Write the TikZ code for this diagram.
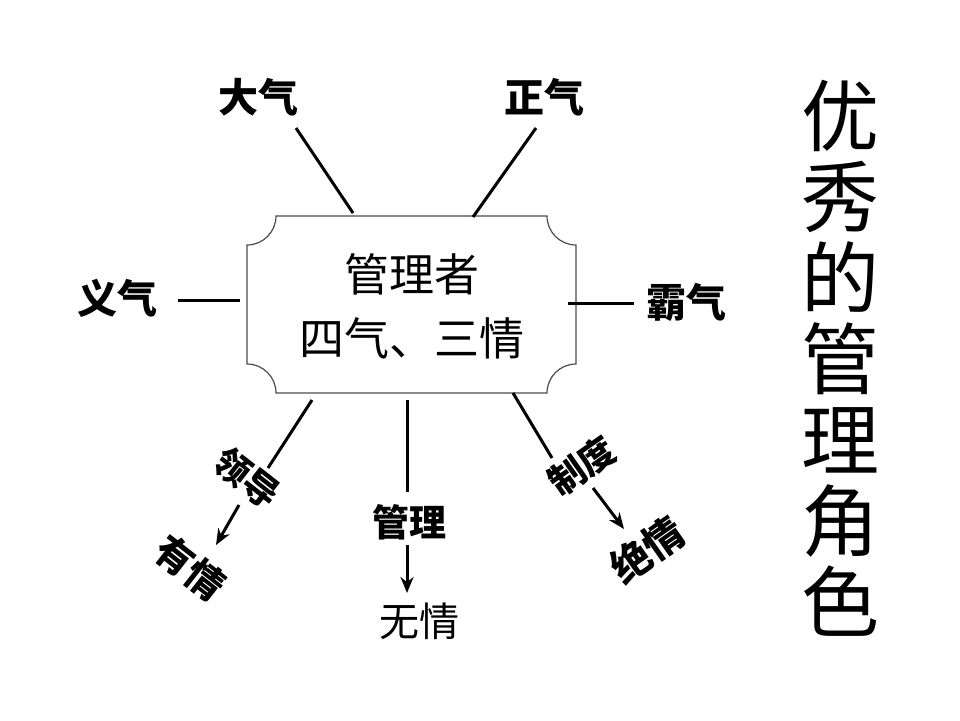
\documentclass[tikz,border=0pt]{standalone}
\usepackage{fontspec}
\newfontfamily\cjk{Noto Sans CJK SC}
\usetikzlibrary{arrows.meta}
\tikzset{
  lbl/.style={inner sep=0pt, font=\cjk\bfseries\fontsize{40}{44}\selectfont},
  lblr/.style={inner sep=0pt, font=\cjk\fontsize{40}{44}\selectfont},
  conn/.style={line width=3pt, black},
  arr/.style={line width=3pt, black, -{Stealth[length=16pt,width=13pt]}},
  plaque/.style={draw=black!70, line width=1.2pt, fill=white},
}
\begin{document}
\begin{tikzpicture}[x=1pt,y=-1pt]
\useasboundingbox (0,0) rectangle (960,720);
\fill[white] (0,0) rectangle (960,720);
% plaque box
\def\L{247}\def\R{576}\def\T{216}\def\B{393}\def\r{29}
\draw[plaque] (\L+\r,\T) -- (\R-\r,\T) arc[start angle=180,end angle=90,radius=\r]
  -- (\R,\B-\r) arc[start angle=270,end angle=180,radius=\r]
  -- (\L+\r,\B) arc[start angle=0,end angle=-90,radius=\r]
  -- (\L,\T+\r) arc[start angle=90,end angle=0,radius=\r] -- cycle;
\node[inner sep=0pt, align=center, font=\cjk\fontsize{45}{64}\selectfont] (box) at (412,306) {管理者\\四气、三情};
% outer labels
\node[lbl] (daqi) at (258,97) {大气};
\node[lbl] (zhengqi) at (544,97) {正气};
\node[lbl] (yiqi) at (117,298) {义气};
\node[lbl] (baqi) at (686,302) {霸气};
\coordinate (d1) at (296,128); \coordinate (d2) at (353,213);
\coordinate (z1) at (536,128); \coordinate (z2) at (473,217);
\coordinate (y1) at (178,300); \coordinate (y2) at (240,300);
\coordinate (b1) at (568,303); \coordinate (b2) at (634,303);
\draw[conn] (d1) -- (d2);
\draw[conn] (z1) -- (z2);
\draw[conn] (y1) -- (y2);
\draw[conn] (b1) -- (b2);
% bottom left
\node[lbl, font=\cjk\bfseries\fontsize{36}{40}\selectfont, rotate=-38] (lingdao) at (247,478) {领导};
\node[lbl, font=\cjk\bfseries\fontsize{38}{40}\selectfont, rotate=-38] (youqing) at (190,568) {有情};
\coordinate (l1) at (312,400); \coordinate (l2) at (268,468);
\coordinate (l3) at (239,505); \coordinate (l4) at (216,545);
\draw[conn] (l1) -- (l2);
\draw[arr] (l3) -- (l4);
% center
\node[lbl, font=\cjk\bfseries\fontsize{37}{40}\selectfont] (guanli) at (409,522) {管理};
\node[lblr] (wuqing) at (419,621) {无情};
\coordinate (c1) at (407,400); \coordinate (c2) at (407,492);
\coordinate (c3) at (407,545); \coordinate (c4) at (407,593);
\draw[conn] (c1) -- (c2);
\draw[arr] (c3) -- (c4);
% bottom right
\node[lbl, font=\cjk\bfseries\fontsize{36}{40}\selectfont, rotate=35] (zhidu) at (582,466) {制度};
\node[lbl, font=\cjk\bfseries\fontsize{40}{44}\selectfont, rotate=35] (jueqing) at (647,550) {绝情};
\coordinate (r1) at (513,393); \coordinate (r2) at (552,458);
\coordinate (r3) at (593,488); \coordinate (r4) at (624,529);
\draw[conn] (r1) -- (r2);
\draw[arr] (r3) -- (r4);
% vertical title
\node[inner sep=0pt, align=center, font=\cjk\fontsize{78}{81}\selectfont] (title) at (840,358) {优\\秀\\的\\管\\理\\角\\色};
\end{tikzpicture}
\end{document}
